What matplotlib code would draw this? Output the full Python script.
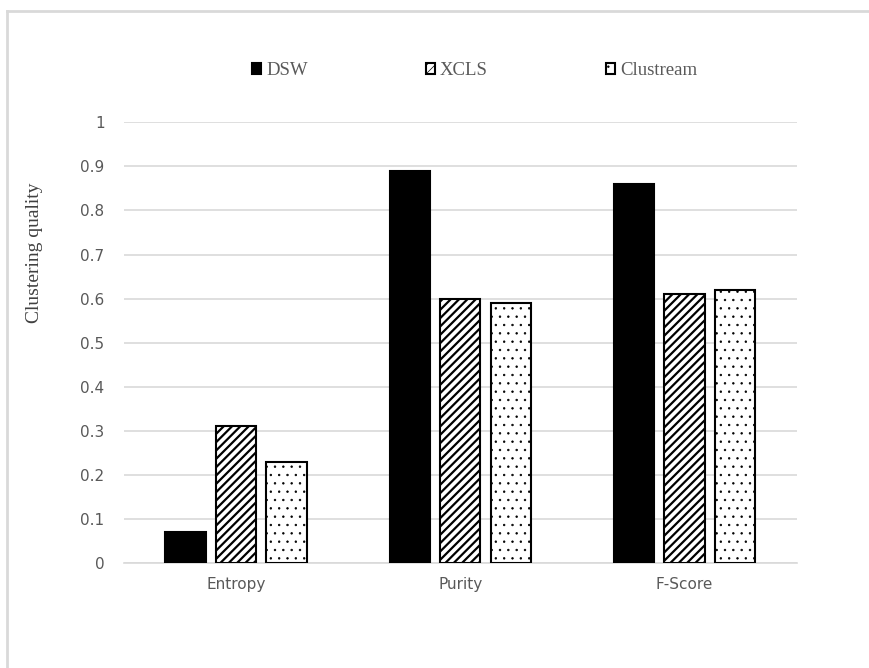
import matplotlib.pyplot as plt
import numpy as np
from matplotlib.patches import Patch
from matplotlib.lines import Line2D

categories = ['Entropy', 'Purity', 'F-Score']
series = ['DSW', 'XCLS', 'Clustream']
dsw = [0.07, 0.89, 0.86]
xcls = [0.31, 0.60, 0.61]
clustream = [0.23, 0.59, 0.62]
yticks = [0, 0.1, 0.2, 0.3, 0.4, 0.5, 0.6, 0.7, 0.8, 0.9, 1]
ytick_labels = ['0', '0.1', '0.2', '0.3', '0.4', '0.5', '0.6', '0.7', '0.8', '0.9', '1']

fig = plt.figure(figsize=(8.69, 6.68), dpi=100)
ax = fig.add_axes([0.1427, 0.157, 0.774, 0.66])

x = np.arange(len(categories))
w = 0.18
off = 0.225
styles = [
    dict(facecolor='black', hatch=None),
    dict(facecolor='white', hatch='////'),
    dict(facecolor='white', hatch='..'),
]
hatch_lw = [1.6, 1.6, 0.5]
for i, vals in enumerate([dsw, xcls, clustream]):
    plt.rcParams['hatch.linewidth'] = hatch_lw[i]
    ax.bar(x + (i - 1) * off, vals, w, edgecolor='black', linewidth=1.5,
           zorder=3, **styles[i])

ax.set_xlim(-0.5, 2.5)
ax.set_ylim(0, 1)
ax.set_yticks(yticks)
ax.set_yticklabels(ytick_labels)
ax.set_xticks(x)
ax.set_xticklabels(categories)
ax.tick_params(axis='both', length=0, labelsize=11, labelcolor='#595959', pad=14)
ax.tick_params(axis='x', pad=10)
ax.grid(axis='y', color='#d9d9d9', linewidth=1.2, zorder=0)
for s in ['top', 'right', 'left']:
    ax.spines[s].set_visible(False)
ax.spines['bottom'].set_color('#d9d9d9')
ax.spines['bottom'].set_linewidth(1.2)

ax.set_ylabel('Clustering quality', family='Liberation Serif', fontsize=14,
              color='#404040')
ax.yaxis.set_label_coords(-0.12, 0.705)

handles = []
for i in range(3):
    plt.rcParams['hatch.linewidth'] = 1.2 if i == 1 else hatch_lw[i]
    handles.append(Patch(edgecolor='black', linewidth=1.5, **styles[i]))
fig.legend(handles, series, loc='center', bbox_to_anchor=(0.546, 0.894), ncol=3,
           frameon=False, columnspacing=6.3, handlelength=0.5, handleheight=0.5,
           handletextpad=0.25, prop={'family': 'Liberation Serif', 'size': 13.5},
           labelcolor='#595959')

# light frame around the chart
fig.add_artist(Line2D([7 / 869, 7 / 869], [0, 1 - 11 / 668], transform=fig.transFigure,
                      color='#d9d9d9', linewidth=2))
fig.add_artist(Line2D([7 / 869, 1], [1 - 11 / 668, 1 - 11 / 668], transform=fig.transFigure,
                      color='#d9d9d9', linewidth=2))

fig.savefig('out.png', dpi=100)
